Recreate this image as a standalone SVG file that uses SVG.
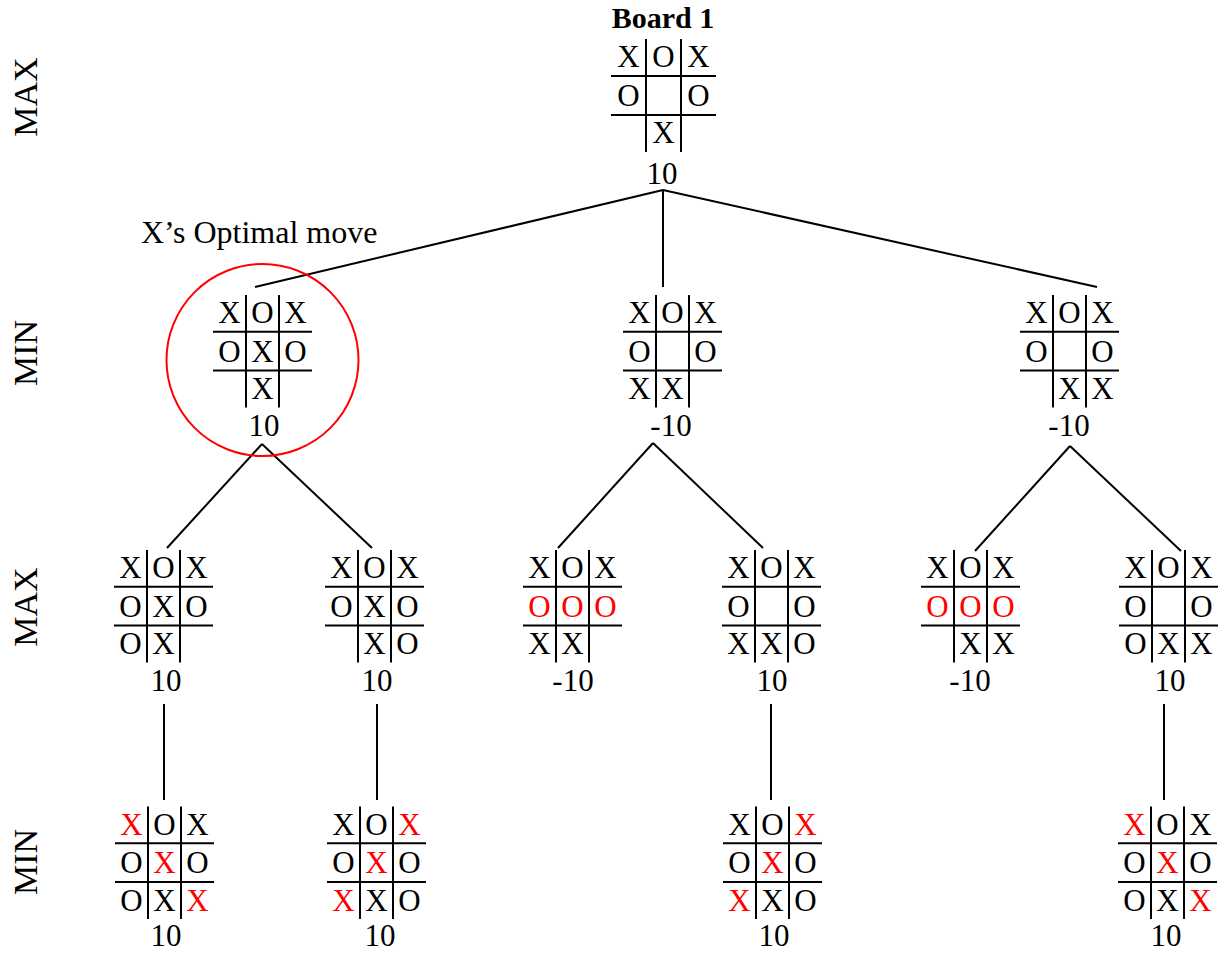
<svg xmlns="http://www.w3.org/2000/svg" xmlns:xlink="http://www.w3.org/1999/xlink" width="1225" height="954" viewBox="0 0 1225 954">
<style>
text{font-family:"Liberation Serif","Times New Roman",serif;fill:#000;}
.c{font-size:31px;text-anchor:middle;}
.r{fill:#ff0000;}
.v{font-size:31px;text-anchor:middle;}
.lvl{font-size:34px;text-anchor:middle;}
.grid{stroke:#000;stroke-width:2;fill:none;}
.conn line{stroke:#000;stroke-width:2;}
</style>
<defs>
<path id="g33" class="grid" d="M0,36.7H99M0,75.5H99M33,0V112.5M66,0V112.5"/>
<path id="g35" class="grid" d="M0,37H105M0,76H105M35,0V113M70,0V113"/>
</defs>
<rect width="1225" height="954" fill="#fff"/>

<g id="levels">
<text class="lvl" transform="translate(37,97) rotate(-90)">MAX</text>
<text class="lvl" transform="translate(37,353) rotate(-90)">MIN</text>
<text class="lvl" transform="translate(37,607) rotate(-90)">MAX</text>
<text class="lvl" transform="translate(37,862) rotate(-90)">MIN</text>
</g>

<g id="connectors" class="conn">
<line x1="663" y1="190" x2="255" y2="287"/>
<line x1="663" y1="190" x2="663" y2="287"/>
<line x1="663" y1="190" x2="1097" y2="287"/>
<line x1="262" y1="444" x2="167" y2="548"/>
<line x1="262" y1="444" x2="372" y2="548"/>
<line x1="653" y1="443" x2="558" y2="548"/>
<line x1="653" y1="443" x2="763" y2="548"/>
<line x1="1070" y1="446" x2="975" y2="551"/>
<line x1="1070" y1="446" x2="1181" y2="551"/>
<line x1="164" y1="704" x2="164" y2="800"/>
<line x1="377" y1="704" x2="377" y2="800"/>
<line x1="771" y1="704" x2="771" y2="800"/>
<line x1="1164" y1="704" x2="1164" y2="800"/>
</g>

<g id="optimal">
<circle cx="262.5" cy="360" r="96" fill="none" stroke="#ff0000" stroke-width="2"/>
<text x="141" y="243" style="font-size:32px">X’s Optimal move</text>
</g>

<g id="root">
<text x="663" y="28" style="font-size:30px;font-weight:bold;text-anchor:middle">Board 1</text>
<g transform="translate(611,39)">
<use xlink:href="#g35"/>
<text class="c" x="17.5" y="28">X</text><text class="c" x="52.5" y="28">O</text><text class="c" x="87.5" y="28">X</text>
<text class="c" x="17.5" y="66.5">O</text><text class="c" x="87.5" y="66.5">O</text>
<text class="c" x="52.5" y="104">X</text>
</g>
<text class="v" x="662" y="184">10</text>
</g>

<g id="min1">
<g transform="translate(213,295)">
<use xlink:href="#g33"/>
<text class="c" x="16.5" y="28">X</text><text class="c" x="49.5" y="28">O</text><text class="c" x="82.5" y="28">X</text>
<text class="c" x="16.5" y="66.5">O</text><text class="c" x="49.5" y="66.5">X</text><text class="c" x="82.5" y="66.5">O</text>
<text class="c" x="49.5" y="104">X</text>
</g>
<text class="v" x="264" y="436">10</text>
</g>

<g id="min2">
<g transform="translate(623,295)">
<use xlink:href="#g33"/>
<text class="c" x="16.5" y="28">X</text><text class="c" x="49.5" y="28">O</text><text class="c" x="82.5" y="28">X</text>
<text class="c" x="16.5" y="66.5">O</text><text class="c" x="82.5" y="66.5">O</text>
<text class="c" x="16.5" y="104">X</text><text class="c" x="49.5" y="104">X</text>
</g>
<text class="v" x="671" y="436">-10</text>
</g>

<g id="min3">
<g transform="translate(1020,295)">
<use xlink:href="#g33"/>
<text class="c" x="16.5" y="28">X</text><text class="c" x="49.5" y="28">O</text><text class="c" x="82.5" y="28">X</text>
<text class="c" x="16.5" y="66.5">O</text><text class="c" x="82.5" y="66.5">O</text>
<text class="c" x="49.5" y="104">X</text><text class="c" x="82.5" y="104">X</text>
</g>
<text class="v" x="1069" y="436">-10</text>
</g>

<g id="max1">
<g transform="translate(114,550)">
<use xlink:href="#g33"/>
<text class="c" x="16.5" y="28">X</text><text class="c" x="49.5" y="28">O</text><text class="c" x="82.5" y="28">X</text>
<text class="c" x="16.5" y="66.5">O</text><text class="c" x="49.5" y="66.5">X</text><text class="c" x="82.5" y="66.5">O</text>
<text class="c" x="16.5" y="104">O</text><text class="c" x="49.5" y="104">X</text>
</g>
<text class="v" x="166" y="691">10</text>
</g>

<g id="max2">
<g transform="translate(325,550)">
<use xlink:href="#g33"/>
<text class="c" x="16.5" y="28">X</text><text class="c" x="49.5" y="28">O</text><text class="c" x="82.5" y="28">X</text>
<text class="c" x="16.5" y="66.5">O</text><text class="c" x="49.5" y="66.5">X</text><text class="c" x="82.5" y="66.5">O</text>
<text class="c" x="49.5" y="104">X</text><text class="c" x="82.5" y="104">O</text>
</g>
<text class="v" x="377" y="691">10</text>
</g>

<g id="max3">
<g transform="translate(523,550)">
<use xlink:href="#g33"/>
<text class="c" x="16.5" y="28">X</text><text class="c" x="49.5" y="28">O</text><text class="c" x="82.5" y="28">X</text>
<text class="c r" x="16.5" y="66.5">O</text><text class="c r" x="49.5" y="66.5">O</text><text class="c r" x="82.5" y="66.5">O</text>
<text class="c" x="16.5" y="104">X</text><text class="c" x="49.5" y="104">X</text>
</g>
<text class="v" x="573" y="691">-10</text>
</g>

<g id="max4">
<g transform="translate(722,550)">
<use xlink:href="#g33"/>
<text class="c" x="16.5" y="28">X</text><text class="c" x="49.5" y="28">O</text><text class="c" x="82.5" y="28">X</text>
<text class="c" x="16.5" y="66.5">O</text><text class="c" x="82.5" y="66.5">O</text>
<text class="c" x="16.5" y="104">X</text><text class="c" x="49.5" y="104">X</text><text class="c" x="82.5" y="104">O</text>
</g>
<text class="v" x="772" y="691">10</text>
</g>

<g id="max5">
<g transform="translate(921,550)">
<use xlink:href="#g33"/>
<text class="c" x="16.5" y="28">X</text><text class="c" x="49.5" y="28">O</text><text class="c" x="82.5" y="28">X</text>
<text class="c r" x="16.5" y="66.5">O</text><text class="c r" x="49.5" y="66.5">O</text><text class="c r" x="82.5" y="66.5">O</text>
<text class="c" x="49.5" y="104">X</text><text class="c" x="82.5" y="104">X</text>
</g>
<text class="v" x="970" y="691">-10</text>
</g>

<g id="max6">
<g transform="translate(1119,550)">
<use xlink:href="#g33"/>
<text class="c" x="16.5" y="28">X</text><text class="c" x="49.5" y="28">O</text><text class="c" x="82.5" y="28">X</text>
<text class="c" x="16.5" y="66.5">O</text><text class="c" x="82.5" y="66.5">O</text>
<text class="c" x="16.5" y="104">O</text><text class="c" x="49.5" y="104">X</text><text class="c" x="82.5" y="104">X</text>
</g>
<text class="v" x="1170" y="691">10</text>
</g>

<g id="min4">
<g transform="translate(115,806.5)">
<use xlink:href="#g33"/>
<text class="c r" x="16.5" y="28">X</text><text class="c" x="49.5" y="28">O</text><text class="c" x="82.5" y="28">X</text>
<text class="c" x="16.5" y="66.5">O</text><text class="c r" x="49.5" y="66.5">X</text><text class="c" x="82.5" y="66.5">O</text>
<text class="c" x="16.5" y="104">O</text><text class="c" x="49.5" y="104">X</text><text class="c r" x="82.5" y="104">X</text>
</g>
<text class="v" x="166" y="946">10</text>
</g>

<g id="min5">
<g transform="translate(327,806.5)">
<use xlink:href="#g33"/>
<text class="c" x="16.5" y="28">X</text><text class="c" x="49.5" y="28">O</text><text class="c r" x="82.5" y="28">X</text>
<text class="c" x="16.5" y="66.5">O</text><text class="c r" x="49.5" y="66.5">X</text><text class="c" x="82.5" y="66.5">O</text>
<text class="c r" x="16.5" y="104">X</text><text class="c" x="49.5" y="104">X</text><text class="c" x="82.5" y="104">O</text>
</g>
<text class="v" x="380" y="946">10</text>
</g>

<g id="min6">
<g transform="translate(723,806.5)">
<use xlink:href="#g33"/>
<text class="c" x="16.5" y="28">X</text><text class="c" x="49.5" y="28">O</text><text class="c r" x="82.5" y="28">X</text>
<text class="c" x="16.5" y="66.5">O</text><text class="c r" x="49.5" y="66.5">X</text><text class="c" x="82.5" y="66.5">O</text>
<text class="c r" x="16.5" y="104">X</text><text class="c" x="49.5" y="104">X</text><text class="c" x="82.5" y="104">O</text>
</g>
<text class="v" x="774" y="946">10</text>
</g>

<g id="min7">
<g transform="translate(1118,806.5)">
<use xlink:href="#g33"/>
<text class="c r" x="16.5" y="28">X</text><text class="c" x="49.5" y="28">O</text><text class="c" x="82.5" y="28">X</text>
<text class="c" x="16.5" y="66.5">O</text><text class="c r" x="49.5" y="66.5">X</text><text class="c" x="82.5" y="66.5">O</text>
<text class="c" x="16.5" y="104">O</text><text class="c" x="49.5" y="104">X</text><text class="c r" x="82.5" y="104">X</text>
</g>
<text class="v" x="1166" y="946">10</text>
</g>
</svg>
